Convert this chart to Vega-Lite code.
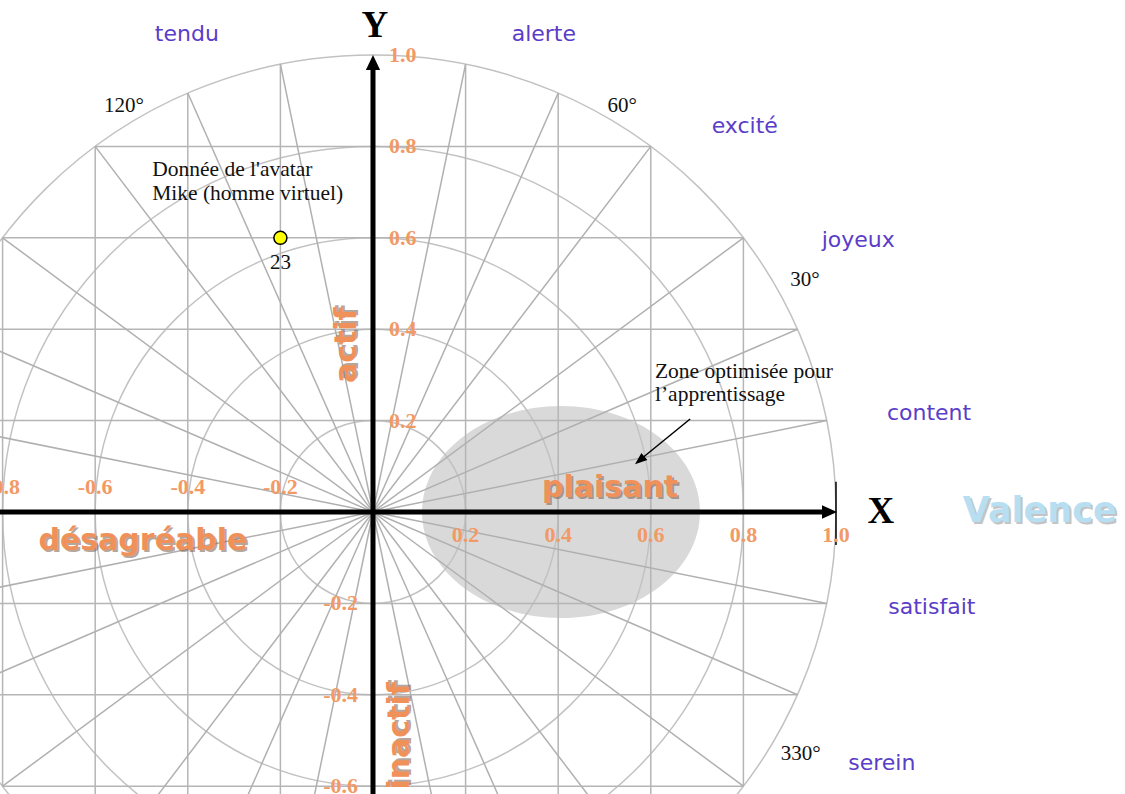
{
  "$schema": "https://vega.github.io/schema/vega-lite/v6.json",
  "width": 1125,
  "height": 794,
  "autosize": "none",
  "padding": 0,
  "background": "white",
  "config": {"view": {"stroke": null}},
  "datasets": {
    "circles": [{"r": 0.2}, {"r": 0.4}, {"r": 0.6}, {"r": 0.8}, {"r": 1.0}],
    "zone": [{"x": 0.406, "y": 0}],
    "grid": [
      {"x": -0.98, "y": 0.2, "x2": 0.98, "y2": 0.2},
      {"x": -0.917, "y": 0.4, "x2": 0.917, "y2": 0.4},
      {"x": -0.8, "y": 0.6, "x2": 0.8, "y2": 0.6},
      {"x": -0.6, "y": 0.8, "x2": 0.6, "y2": 0.8},
      {"x": -0.98, "y": -0.2, "x2": 0.98, "y2": -0.2},
      {"x": -0.917, "y": -0.4, "x2": 0.917, "y2": -0.4},
      {"x": -0.8, "y": -0.6, "x2": 0.8, "y2": -0.6},
      {"x": -0.6, "y": -0.8, "x2": 0.6, "y2": -0.8},
      {"x": 0.2, "y": -0.98, "x2": 0.2, "y2": 0.98},
      {"x": 0.4, "y": -0.917, "x2": 0.4, "y2": 0.917},
      {"x": 0.6, "y": -0.8, "x2": 0.6, "y2": 0.8},
      {"x": 0.8, "y": -0.6, "x2": 0.8, "y2": 0.6},
      {"x": -0.2, "y": -0.98, "x2": -0.2, "y2": 0.98},
      {"x": -0.4, "y": -0.917, "x2": -0.4, "y2": 0.917},
      {"x": -0.6, "y": -0.8, "x2": -0.6, "y2": 0.8},
      {"x": -0.8, "y": -0.6, "x2": -0.8, "y2": 0.6}
    ],
    "spokes": [
      {"x": 0, "y": 0, "x2": 0.2, "y2": 0.98},
      {"x": 0, "y": 0, "x2": 0.4, "y2": 0.917},
      {"x": 0, "y": 0, "x2": 0.6, "y2": 0.8},
      {"x": 0, "y": 0, "x2": 0.8, "y2": 0.6},
      {"x": 0, "y": 0, "x2": 0.917, "y2": 0.4},
      {"x": 0, "y": 0, "x2": 0.98, "y2": 0.2},
      {"x": 0, "y": 0, "x2": -0.2, "y2": 0.98},
      {"x": 0, "y": 0, "x2": -0.4, "y2": 0.917},
      {"x": 0, "y": 0, "x2": -0.6, "y2": 0.8},
      {"x": 0, "y": 0, "x2": -0.8, "y2": 0.6},
      {"x": 0, "y": 0, "x2": -0.917, "y2": 0.4},
      {"x": 0, "y": 0, "x2": -0.98, "y2": 0.2},
      {"x": 0, "y": 0, "x2": 0.2, "y2": -0.98},
      {"x": 0, "y": 0, "x2": 0.4, "y2": -0.917},
      {"x": 0, "y": 0, "x2": 0.6, "y2": -0.8},
      {"x": 0, "y": 0, "x2": 0.8, "y2": -0.6},
      {"x": 0, "y": 0, "x2": 0.917, "y2": -0.4},
      {"x": 0, "y": 0, "x2": 0.98, "y2": -0.2},
      {"x": 0, "y": 0, "x2": -0.2, "y2": -0.98},
      {"x": 0, "y": 0, "x2": -0.4, "y2": -0.917},
      {"x": 0, "y": 0, "x2": -0.6, "y2": -0.8},
      {"x": 0, "y": 0, "x2": -0.8, "y2": -0.6},
      {"x": 0, "y": 0, "x2": -0.917, "y2": -0.4},
      {"x": 0, "y": 0, "x2": -0.98, "y2": -0.2}
    ],
    "axes": [
      {"x": -0.9, "y": 0, "x2": 0.975, "y2": 0},
      {"x": 0, "y": -0.7, "x2": 0, "y2": 0.97}
    ],
    "heads": [
      {"x": 0.986, "y": 0, "dir": "right"},
      {"x": 0, "y": 0.9836, "dir": "up"}
    ],
    "endtick": [{"x": 1.0, "y": 0.066, "x2": 1.0, "y2": -0.072}],
    "notearrow": [{"x": 0.685, "y": 0.2035, "x2": 0.579, "y2": 0.116}],
    "notehead": [{"x": 0.576, "y": 0.113}],
    "avatar": [{"x": -0.2, "y": 0.6, "label": "23"}],
    "ticks": [
      {"x": -0.8, "y": 0, "label": "-0.8", "side": "xneg"},
      {"x": -0.6, "y": 0, "label": "-0.6", "side": "xneg"},
      {"x": -0.4, "y": 0, "label": "-0.4", "side": "xneg"},
      {"x": -0.2, "y": 0, "label": "-0.2", "side": "xneg"},
      {"x": 0.2, "y": 0, "label": "0.2", "side": "xpos"},
      {"x": 0.4, "y": 0, "label": "0.4", "side": "xpos"},
      {"x": 0.6, "y": 0, "label": "0.6", "side": "xpos"},
      {"x": 0.8, "y": 0, "label": "0.8", "side": "xpos"},
      {"x": 1.0, "y": 0, "label": "1.0", "side": "xpos"},
      {"x": 0, "y": 0.2, "label": "0.2", "side": "ypos"},
      {"x": 0, "y": 0.4, "label": "0.4", "side": "ypos"},
      {"x": 0, "y": 0.6, "label": "0.6", "side": "ypos"},
      {"x": 0, "y": 0.8, "label": "0.8", "side": "ypos"},
      {"x": 0, "y": 1.0, "label": "1.0", "side": "ypos"},
      {"x": 0, "y": -0.2, "label": "-0.2", "side": "yneg"},
      {"x": 0, "y": -0.4, "label": "-0.4", "side": "yneg"},
      {"x": 0, "y": -0.6, "label": "-0.6", "side": "yneg"}
    ],
    "purple": [
      {"x": -0.402, "y": 1.046, "label": "tendu"},
      {"x": 0.369, "y": 1.046, "label": "alerte"},
      {"x": 0.803, "y": 0.845, "label": "excité"},
      {"x": 1.048, "y": 0.595, "label": "joyeux"},
      {"x": 1.201, "y": 0.217, "label": "content"},
      {"x": 1.207, "y": -0.208, "label": "satisfait"},
      {"x": 1.099, "y": -0.549, "label": "serein"}
    ],
    "degrees": [
      {"x": -0.538, "y": 0.888, "label": "120°"},
      {"x": 0.538, "y": 0.888, "label": "60°"},
      {"x": 0.933, "y": 0.508, "label": "30°"},
      {"x": 0.924, "y": -0.53, "label": "330°"}
    ],
    "notes": [
      {"x": 0.609, "y": 0.306, "label": "Zone optimisée pour"},
      {"x": 0.609, "y": 0.256, "label": "l’apprentissage"},
      {"x": -0.477, "y": 0.748, "label": "Donnée de l'avatar"},
      {"x": -0.477, "y": 0.696, "label": "Mike (homme virtuel)"}
    ],
    "orange": [
      {"x": 0.512, "y": 0.053, "label": "plaisant", "rot": 0},
      {"x": -0.497, "y": -0.063, "label": "désagréable", "rot": 0},
      {"x": -0.056, "y": 0.365, "label": "actif", "rot": 270},
      {"x": 0.058, "y": -0.49, "label": "inactif", "rot": 270}
    ],
    "axisnames": [
      {"x": 1.097, "y": 0.0, "label": "X"},
      {"x": 0.004, "y": 1.063, "label": "Y"}
    ],
    "valence": [{"x": 1.44, "y": 0.002, "label": "Valence"}]
  },
  "layer": [
    {
      "data": {"name": "zone"},
      "mark": {"type": "point", "shape": "M -1,0 A 1,0.763 0 1,1 1,0 A 1,0.763 0 1,1 -1,0 Z", "filled": true, "color": "#d9d9d9", "opacity": 1, "size": 77284, "clip": true},
      "encoding": {
        "x": {"field": "x", "type": "quantitative", "scale": {"domain": [-0.8056, 1.6242], "nice": false, "zero": false}, "axis": null},
        "y": {"field": "y", "type": "quantitative", "scale": {"domain": [-0.6171, 1.1204], "nice": false, "zero": false}, "axis": null}
      }
    },
    {
      "data": {"name": "circles"},
      "mark": {"type": "point", "shape": "M -1,0 A 1,0.987 0 1,1 1,0 A 1,0.987 0 1,1 -1,0 Z", "filled": false, "color": "#c2c2c2", "opacity": 1, "strokeWidth": 1.5, "clip": true},
      "encoding": {
        "x": {"datum": 0, "type": "quantitative", "scale": {"domain": [-0.8056, 1.6242], "nice": false, "zero": false}, "axis": null},
        "y": {"datum": 0, "type": "quantitative", "scale": {"domain": [-0.6171, 1.1204], "nice": false, "zero": false}, "axis": null},
        "size": {"field": "r", "type": "quantitative", "scale": {"type": "pow", "exponent": 2, "domain": [0, 1], "range": [0, 857476]}, "legend": null}
      }
    },
    {
      "data": {"name": "grid"},
      "mark": {"type": "rule", "color": "#b5b5b5", "strokeWidth": 1.5, "clip": true},
      "encoding": {
        "x": {"field": "x", "type": "quantitative", "scale": {"domain": [-0.8056, 1.6242], "nice": false, "zero": false}, "axis": null},
        "y": {"field": "y", "type": "quantitative", "scale": {"domain": [-0.6171, 1.1204], "nice": false, "zero": false}, "axis": null},
        "x2": {"field": "x2"},
        "y2": {"field": "y2"}
      }
    },
    {
      "data": {"name": "spokes"},
      "mark": {"type": "rule", "color": "#b0b0b0", "strokeWidth": 1.5, "clip": true},
      "encoding": {
        "x": {"field": "x", "type": "quantitative", "scale": {"domain": [-0.8056, 1.6242], "nice": false, "zero": false}, "axis": null},
        "y": {"field": "y", "type": "quantitative", "scale": {"domain": [-0.6171, 1.1204], "nice": false, "zero": false}, "axis": null},
        "x2": {"field": "x2"},
        "y2": {"field": "y2"}
      }
    },
    {
      "data": {"name": "axes"},
      "mark": {"type": "rule", "color": "#000000", "strokeWidth": 5, "clip": true},
      "encoding": {
        "x": {"field": "x", "type": "quantitative", "scale": {"domain": [-0.8056, 1.6242], "nice": false, "zero": false}, "axis": null},
        "y": {"field": "y", "type": "quantitative", "scale": {"domain": [-0.6171, 1.1204], "nice": false, "zero": false}, "axis": null},
        "x2": {"field": "x2"},
        "y2": {"field": "y2"}
      }
    },
    {
      "data": {"name": "heads"},
      "mark": {"type": "point", "filled": true, "color": "#000000", "opacity": 1, "size": 225, "clip": true},
      "encoding": {
        "x": {"field": "x", "type": "quantitative", "scale": {"domain": [-0.8056, 1.6242], "nice": false, "zero": false}, "axis": null},
        "y": {"field": "y", "type": "quantitative", "scale": {"domain": [-0.6171, 1.1204], "nice": false, "zero": false}, "axis": null},
        "shape": {"field": "dir", "type": "nominal", "scale": {"domain": ["right", "up"], "range": ["M 1,0 L -1,-0.9 L -1,0.9 Z", "M 0,-1 L -0.95,1 L 0.95,1 Z"]}, "legend": null}
      }
    },
    {
      "data": {"name": "endtick"},
      "mark": {"type": "rule", "color": "#000000", "strokeWidth": 1.5, "clip": true},
      "encoding": {
        "x": {"field": "x", "type": "quantitative", "scale": {"domain": [-0.8056, 1.6242], "nice": false, "zero": false}, "axis": null},
        "y": {"field": "y", "type": "quantitative", "scale": {"domain": [-0.6171, 1.1204], "nice": false, "zero": false}, "axis": null},
        "x2": {"field": "x2"},
        "y2": {"field": "y2"}
      }
    },
    {
      "data": {"name": "notearrow"},
      "mark": {"type": "rule", "color": "#000000", "strokeWidth": 1.5, "clip": true},
      "encoding": {
        "x": {"field": "x", "type": "quantitative", "scale": {"domain": [-0.8056, 1.6242], "nice": false, "zero": false}, "axis": null},
        "y": {"field": "y", "type": "quantitative", "scale": {"domain": [-0.6171, 1.1204], "nice": false, "zero": false}, "axis": null},
        "x2": {"field": "x2"},
        "y2": {"field": "y2"}
      }
    },
    {
      "data": {"name": "notehead"},
      "mark": {"type": "point", "shape": "M 0,-1 L -0.75,1 L 0.75,1 Z", "angle": 230, "filled": true, "color": "#000000", "opacity": 1, "size": 150, "clip": true},
      "encoding": {
        "x": {"field": "x", "type": "quantitative", "scale": {"domain": [-0.8056, 1.6242], "nice": false, "zero": false}, "axis": null},
        "y": {"field": "y", "type": "quantitative", "scale": {"domain": [-0.6171, 1.1204], "nice": false, "zero": false}, "axis": null}
      }
    },
    {
      "data": {"name": "avatar"},
      "mark": {"type": "point", "shape": "circle", "filled": true, "fill": "#ffff00", "stroke": "#000000", "strokeWidth": 1.5, "opacity": 1, "size": 170, "clip": true},
      "encoding": {
        "x": {"field": "x", "type": "quantitative", "scale": {"domain": [-0.8056, 1.6242], "nice": false, "zero": false}, "axis": null},
        "y": {"field": "y", "type": "quantitative", "scale": {"domain": [-0.6171, 1.1204], "nice": false, "zero": false}, "axis": null}
      }
    },
    {
      "data": {"name": "avatar"},
      "mark": {"type": "text", "font": "Liberation Serif", "fontSize": 21, "color": "#111111", "align": "center", "baseline": "middle", "dy": 25, "clip": true},
      "encoding": {
        "x": {"field": "x", "type": "quantitative", "scale": {"domain": [-0.8056, 1.6242], "nice": false, "zero": false}, "axis": null},
        "y": {"field": "y", "type": "quantitative", "scale": {"domain": [-0.6171, 1.1204], "nice": false, "zero": false}, "axis": null},
        "text": {"field": "label"}
      }
    },
    {
      "data": {"name": "ticks"},
      "transform": [{"filter": "datum.side === 'xpos'"}],
      "mark": {"type": "text", "font": "Liberation Serif", "fontWeight": "bold", "fontSize": 22, "color": "#f29a66", "align": "center", "baseline": "middle", "dy": 23, "clip": true},
      "encoding": {
        "x": {"field": "x", "type": "quantitative", "scale": {"domain": [-0.8056, 1.6242], "nice": false, "zero": false}, "axis": null},
        "y": {"field": "y", "type": "quantitative", "scale": {"domain": [-0.6171, 1.1204], "nice": false, "zero": false}, "axis": null},
        "text": {"field": "label"}
      }
    },
    {
      "data": {"name": "ticks"},
      "transform": [{"filter": "datum.side === 'xneg'"}],
      "mark": {"type": "text", "font": "Liberation Serif", "fontWeight": "bold", "fontSize": 22, "color": "#f29a66", "align": "center", "baseline": "middle", "dy": -25, "clip": true},
      "encoding": {
        "x": {"field": "x", "type": "quantitative", "scale": {"domain": [-0.8056, 1.6242], "nice": false, "zero": false}, "axis": null},
        "y": {"field": "y", "type": "quantitative", "scale": {"domain": [-0.6171, 1.1204], "nice": false, "zero": false}, "axis": null},
        "text": {"field": "label"}
      }
    },
    {
      "data": {"name": "ticks"},
      "transform": [{"filter": "datum.side === 'ypos'"}],
      "mark": {"type": "text", "font": "Liberation Serif", "fontWeight": "bold", "fontSize": 22, "color": "#f29a66", "align": "left", "baseline": "middle", "dx": 16, "clip": true},
      "encoding": {
        "x": {"field": "x", "type": "quantitative", "scale": {"domain": [-0.8056, 1.6242], "nice": false, "zero": false}, "axis": null},
        "y": {"field": "y", "type": "quantitative", "scale": {"domain": [-0.6171, 1.1204], "nice": false, "zero": false}, "axis": null},
        "text": {"field": "label"}
      }
    },
    {
      "data": {"name": "ticks"},
      "transform": [{"filter": "datum.side === 'yneg'"}],
      "mark": {"type": "text", "font": "Liberation Serif", "fontWeight": "bold", "fontSize": 22, "color": "#f29a66", "align": "right", "baseline": "middle", "dx": -15, "clip": true},
      "encoding": {
        "x": {"field": "x", "type": "quantitative", "scale": {"domain": [-0.8056, 1.6242], "nice": false, "zero": false}, "axis": null},
        "y": {"field": "y", "type": "quantitative", "scale": {"domain": [-0.6171, 1.1204], "nice": false, "zero": false}, "axis": null},
        "text": {"field": "label"}
      }
    },
    {
      "data": {"name": "purple"},
      "mark": {"type": "text", "font": "DejaVu Sans", "fontSize": 22, "color": "#5a3dc8", "align": "center", "baseline": "middle", "clip": true},
      "encoding": {
        "x": {"field": "x", "type": "quantitative", "scale": {"domain": [-0.8056, 1.6242], "nice": false, "zero": false}, "axis": null},
        "y": {"field": "y", "type": "quantitative", "scale": {"domain": [-0.6171, 1.1204], "nice": false, "zero": false}, "axis": null},
        "text": {"field": "label"}
      }
    },
    {
      "data": {"name": "degrees"},
      "mark": {"type": "text", "font": "Liberation Serif", "fontSize": 21, "color": "#111111", "align": "center", "baseline": "middle", "clip": true},
      "encoding": {
        "x": {"field": "x", "type": "quantitative", "scale": {"domain": [-0.8056, 1.6242], "nice": false, "zero": false}, "axis": null},
        "y": {"field": "y", "type": "quantitative", "scale": {"domain": [-0.6171, 1.1204], "nice": false, "zero": false}, "axis": null},
        "text": {"field": "label"}
      }
    },
    {
      "data": {"name": "notes"},
      "mark": {"type": "text", "font": "Liberation Serif", "fontSize": 21.5, "color": "#111111", "align": "left", "baseline": "middle", "clip": true},
      "encoding": {
        "x": {"field": "x", "type": "quantitative", "scale": {"domain": [-0.8056, 1.6242], "nice": false, "zero": false}, "axis": null},
        "y": {"field": "y", "type": "quantitative", "scale": {"domain": [-0.6171, 1.1204], "nice": false, "zero": false}, "axis": null},
        "text": {"field": "label"}
      }
    },
    {
      "data": {"name": "orange"},
      "mark": {"type": "text", "font": "DejaVu Sans", "fontWeight": "bold", "fontSize": 30, "color": "#7a6050", "opacity": 0.55, "align": "center", "baseline": "middle", "dx": 2, "dy": 2, "clip": true},
      "encoding": {
        "x": {"field": "x", "type": "quantitative", "scale": {"domain": [-0.8056, 1.6242], "nice": false, "zero": false}, "axis": null},
        "y": {"field": "y", "type": "quantitative", "scale": {"domain": [-0.6171, 1.1204], "nice": false, "zero": false}, "axis": null},
        "text": {"field": "label"},
        "angle": {"field": "rot", "type": "quantitative", "scale": null}
      }
    },
    {
      "data": {"name": "orange"},
      "mark": {"type": "text", "font": "DejaVu Sans", "fontWeight": "bold", "fontSize": 30, "color": "#f0915a", "align": "center", "baseline": "middle", "clip": true},
      "encoding": {
        "x": {"field": "x", "type": "quantitative", "scale": {"domain": [-0.8056, 1.6242], "nice": false, "zero": false}, "axis": null},
        "y": {"field": "y", "type": "quantitative", "scale": {"domain": [-0.6171, 1.1204], "nice": false, "zero": false}, "axis": null},
        "text": {"field": "label"},
        "angle": {"field": "rot", "type": "quantitative", "scale": null}
      }
    },
    {
      "data": {"name": "axisnames"},
      "mark": {"type": "text", "font": "Liberation Serif", "fontWeight": "bold", "fontSize": 37, "color": "#000000", "align": "center", "baseline": "middle", "clip": true},
      "encoding": {
        "x": {"field": "x", "type": "quantitative", "scale": {"domain": [-0.8056, 1.6242], "nice": false, "zero": false}, "axis": null},
        "y": {"field": "y", "type": "quantitative", "scale": {"domain": [-0.6171, 1.1204], "nice": false, "zero": false}, "axis": null},
        "text": {"field": "label"}
      }
    },
    {
      "data": {"name": "valence"},
      "mark": {"type": "text", "font": "DejaVu Sans", "fontWeight": "bold", "fontSize": 35, "color": "#8a8a8a", "opacity": 0.5, "align": "center", "baseline": "middle", "dx": 2, "dy": 2, "clip": true},
      "encoding": {
        "x": {"field": "x", "type": "quantitative", "scale": {"domain": [-0.8056, 1.6242], "nice": false, "zero": false}, "axis": null},
        "y": {"field": "y", "type": "quantitative", "scale": {"domain": [-0.6171, 1.1204], "nice": false, "zero": false}, "axis": null},
        "text": {"field": "label"}
      }
    },
    {
      "data": {"name": "valence"},
      "mark": {"type": "text", "font": "DejaVu Sans", "fontWeight": "bold", "fontSize": 35, "color": "#b8def2", "align": "center", "baseline": "middle", "clip": true},
      "encoding": {
        "x": {"field": "x", "type": "quantitative", "scale": {"domain": [-0.8056, 1.6242], "nice": false, "zero": false}, "axis": null},
        "y": {"field": "y", "type": "quantitative", "scale": {"domain": [-0.6171, 1.1204], "nice": false, "zero": false}, "axis": null},
        "text": {"field": "label"}
      }
    }
  ]
}
